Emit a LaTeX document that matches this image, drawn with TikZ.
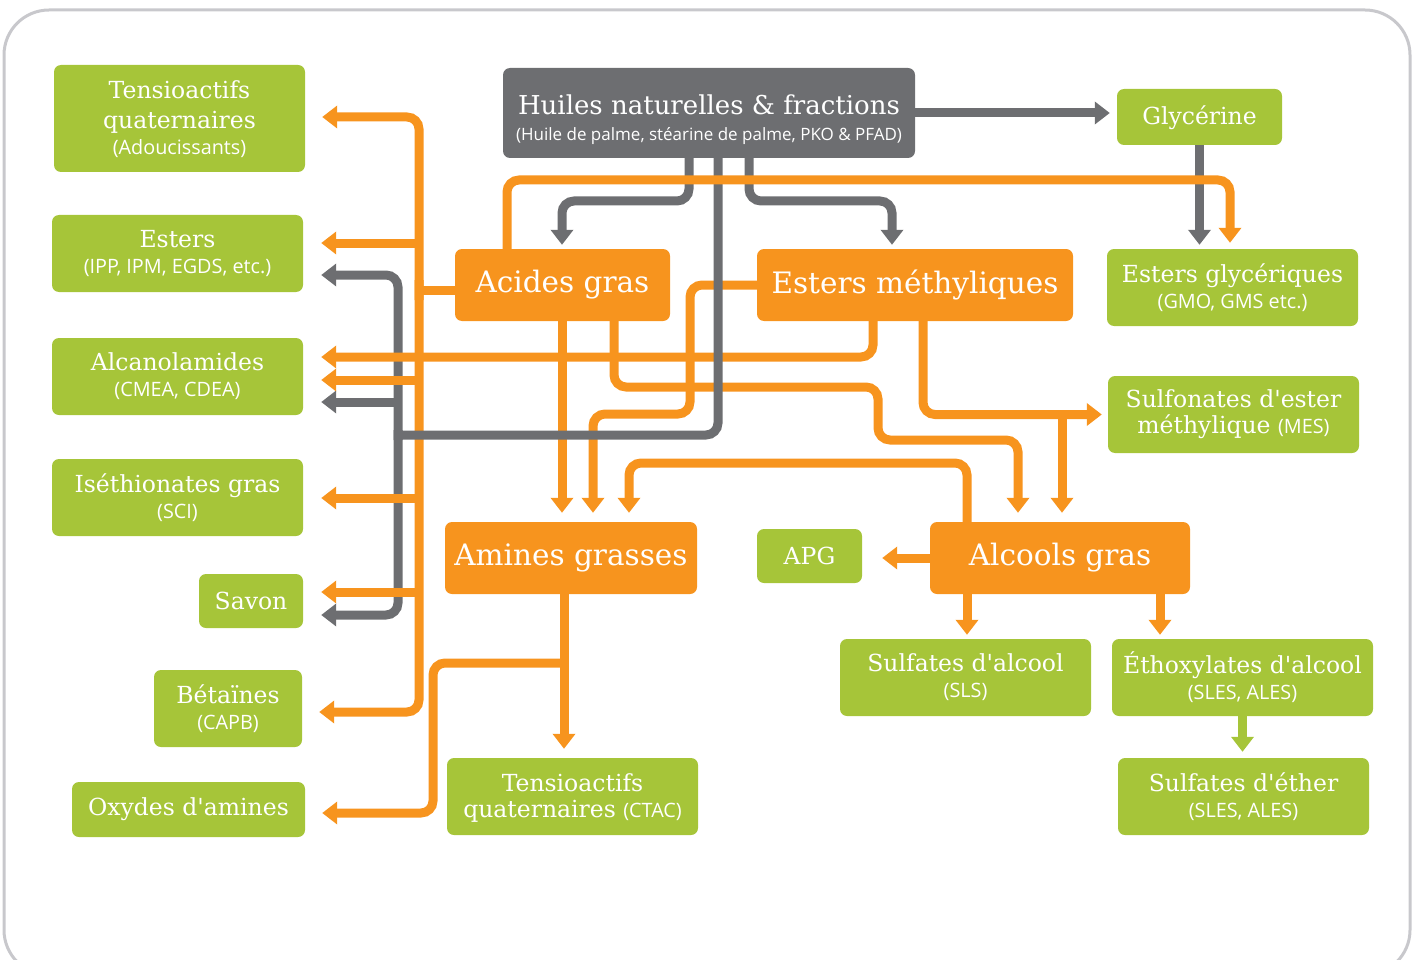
\documentclass[tikz,border=0pt]{standalone}
\usepackage{fontspec}
\setmainfont{DejaVu Serif}
\setsansfont{Open Sans}
\usetikzlibrary{arrows.meta,calc}
\definecolor{cgreen}{HTML}{A6C539}
\definecolor{corange}{HTML}{F7941E}
\definecolor{cgray}{HTML}{6D6E71}
\definecolor{cframe}{HTML}{C8C8CC}
\newcommand\GTf{\fontsize{23.5}{26}\selectfont}
\newcommand\SBf{\sffamily\fontsize{19.8}{22}\selectfont}
\newcommand\ORf{\fontsize{29.5}{34}\selectfont}
\newcommand\HUf{\fontsize{26}{30}\selectfont}
\newcommand\HSf{\sffamily\fontsize{17}{20}\selectfont}
\newcommand\apo{\textquotesingle}
\tikzset{
 box/.style={rounded corners=7pt, text=white, align=center, inner sep=0pt},
 gbox/.style={box, fill=cgreen, font=\GTf},
 obox/.style={box, fill=corange, font=\ORf},
 sz/.style 2 args={minimum width=#1pt, minimum height=#2pt},
 conn/.style={line width=9pt, rounded corners=12pt},
 ol/.style={conn, draw=corange},
 gl/.style={conn, draw=cgray},
 grl/.style={conn, draw=cgreen},
 arr/.style={-{Triangle[width=22pt,length=15pt]}},
}
\begin{document}
\begin{tikzpicture}[x=1pt,y=-1pt]
\useasboundingbox (0,0) rectangle (1421,960);
\clip (0,0) rectangle (1421,960);
\draw[cframe, line width=3pt, rounded corners=45pt] (4,10) rectangle (1410,975);

% boxes
\node[gbox, sz={251}{107}] (tq1) at (179.5,118.5) {\rule{0pt}{20pt}Tensioactifs\\[4pt]quaternaires\\{\SBf (Adoucissants)}};
\node[gbox, sz={251}{77}] (est) at (177.5,253.5) {Esters\\{\SBf (IPP, IPM, EGDS, etc.)}};
\node[gbox, sz={251}{77}] (alc) at (177.5,376.5) {Alcanolamides\\{\SBf (CMEA, CDEA)}};
\node[gbox, sz={251}{77}] (ise) at (177.5,497.5) {Iséthionates gras\\{\SBf (SCI)}};
\node[gbox, sz={104}{54}] (sav) at (251,601) {Savon};
\node[gbox, sz={148}{77}] (bet) at (228,708.5) {Bétaïnes\\{\SBf (CAPB)}};
\node[gbox, sz={233}{55}] (oxy) at (188.5,809.5) {Oxydes d\apo amines};
\node[box, fill=cgray, sz={412}{90}, font=\fontsize{17}{26}\selectfont] (hui) at (709,113) {{\HUf\rule{0pt}{33pt}Huiles naturelles \& fractions}\\{\HSf (Huile de palme, stéarine de palme, PKO \& PFAD)}};
\node[gbox, sz={165}{56}] (gly) at (1199.5,117) {\rule{0pt}{20pt}Glycérine};
\node[obox, sz={215}{72}] (acg) at (562.5,285) {Acides gras};
\node[obox, sz={316}{72}] (em) at (915,285) {Esters méthyliques};
\node[gbox, sz={251}{77}] (eg) at (1232.5,287.5) {Esters glycériques\\{\SBf (GMO, GMS etc.)}};
\node[gbox, sz={251}{77}] (mes) at (1233.5,414.5) {Sulfonates d\apo ester\\méthylique {\SBf (MES)}};
\node[obox, sz={252}{72}] (ag) at (571,558) {Amines grasses};
\node[gbox, sz={105}{54}] (apg) at (809.5,556) {APG};
\node[obox, sz={260}{72}] (alg) at (1060,558) {Alcools gras};
\node[gbox, sz={251}{77}] (sa) at (965.5,677.5) {Sulfates d\apo alcool\\{\SBf (SLS)}};
\node[gbox, sz={261}{77}] (eth) at (1242.5,677.5) {Éthoxylates d\apo alcool\\{\SBf (SLES, ALES)}};
\node[gbox, sz={251}{77}] (se) at (1243.5,796.5) {Sulfates d\apo éther\\{\SBf (SLES, ALES)}};
\node[gbox, sz={251}{77}] (ctac) at (572.5,796.5) {\rule{0pt}{20pt}Tensioactifs\\quaternaires {\SBf (CTAC)}};

% gray connectors (lower layer)
\draw[gl,arr,shorten >=4pt] ($(hui.south)+(-20,0)$) -- (689,201) -- (562,201) -- ($(acg.north)+(-0.5,0)$);
\draw[gl,arr,shorten >=4pt] ($(hui.south)+(40,0)$) -- (749,201) -- (892,201) -- ($(em.north)+(-23,0)$);
\draw[gl,arr,shorten >=7pt] (hui.east) -- (hui.east -| gly.west);
\draw[gl,arr,shorten >=4pt] (gly.south) -- (gly.south |- eg.north);
\draw[gl,arr,shorten >=18pt] (398,440) -- (398,275) -- ($(est.east)+(0,21.5)$);
\draw[gl,arr,shorten >=18pt] (398,430) -- (398,615) -- ($(sav.east)+(0,14)$);
\draw[gl,arr,shorten >=18pt] (398,402) -- ($(alc.east)+(0,25.5)$);

% orange connectors
\draw[ol] ($(acg.west)+(0,5)$) -- (419,290);
\draw[ol,arr,shorten >=17pt] (419,300) -- (419,117) -- ($(tq1.east)+(0,-1.5)$);
\draw[ol,arr,shorten >=17pt] (419,280) -- (419,712) -- ($(bet.east)+(0,3.5)$);
\draw[ol,arr,shorten >=18pt] (419,243) -- ($(est.east)+(0,-10.5)$);
\draw[ol,arr,shorten >=18pt] (419,380) -- ($(alc.east)+(0,3.5)$);
\draw[ol,arr,shorten >=18pt] (419,498) -- ($(ise.east)+(0,0.5)$);
\draw[ol,arr,shorten >=18pt] (419,592) -- ($(sav.east)+(0,-9)$);
\draw[ol,arr,shorten >=9pt] ($(acg.south)+(-0.5,0)$) -- ($(ag.north)+(-9,0)$);
\draw[ol,arr,shorten >=9pt] ($(acg.south)+(51.5,0)$) -- (614,387) -- (878,387) -- (878,440) -- (1018,440) -- ($(alg.north)+(-42,0)$);
\draw[ol,arr,shorten >=9pt] (em.west) -- (690,285) -- (690,414) -- (593,414) -- ($(ag.north)+(22,0)$);
\draw[ol,arr,shorten >=9pt] ($(alg.north)+(-93,0)$) -- (967,463) -- (629,463) -- ($(ag.north)+(58,0)$);
\draw[ol,arr,shorten >=6pt] ($(em.south)+(8,0)$) -- (923,414.5) -- (mes.west);
\draw[ol,arr,shorten >=9pt] (1062,414.5) -- ($(alg.north)+(2,0)$);
\draw[ol,arr,shorten >=18pt] ($(em.south)+(-42,0)$) -- (873,357) -- ($(alc.east)+(0,-19.5)$);
\draw[ol,arr,shorten >=20pt] (alg.west) -- (alg.west -| apg.east);
\draw[ol,arr,shorten >=4pt] ($(alg.south)+(-93,0)$) -- ($(sa.north)+(1.5,0)$);
\draw[ol,arr,shorten >=4pt] ($(alg.south)+(100,0)$) -- ($(eth.north)+(-82.5,0)$);
\draw[ol,arr,shorten >=9pt] ($(ag.south)+(-7,0)$) -- ($(ctac.north)+(-8.5,0)$);
\draw[ol,arr,shorten >=17pt] (564,663) -- (433,663) -- (433,813) -- ($(oxy.east)+(0,3.5)$);
\draw[grl,arr,shorten >=6pt] (eth.south) -- (eth.south |- se.north);

% gray connector on top
\draw[gl] ($(hui.south)+(9,0)$) -- (718,435) -- (398,435);

% orange top line
\draw[ol,arr,shorten >=6pt] ($(acg.north)+(-55.5,0)$) -- (507,180) -- (1230,180) -- ($(eg.north)+(-2.5,0)$);
\end{tikzpicture}
\end{document}
